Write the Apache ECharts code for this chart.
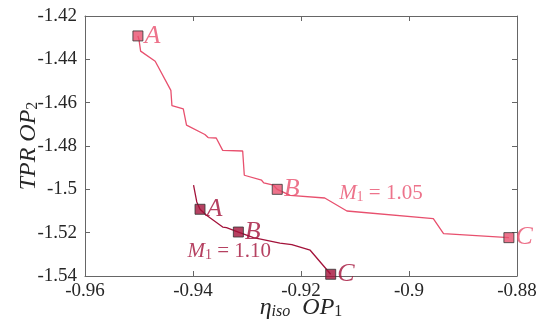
<!DOCTYPE html>
<html><head><meta charset="utf-8">
<script src="https://cdn.jsdelivr.net/npm/echarts@6/dist/echarts.min.js"></script>
<style>html,body{margin:0;padding:0;background:#fff}#c{width:536px;height:327px}</style>
</head><body><div id="c"></div>
<script>
const xTicks = ['-0.96','-0.94','-0.92','-0.9','-0.88'];
const yTicks = ['-1.42','-1.44','-1.46','-1.48','-1.5','-1.52','-1.54'];
const curve105 = [[-0.9502,-1.4292],[-0.9500,-1.4309],[-0.9497,-1.4362],[-0.9470,-1.4409],[-0.9441,-1.4543],[-0.9439,-1.4614],[-0.9418,-1.4629],[-0.9412,-1.4704],[-0.9378,-1.4747],[-0.9372,-1.4761],[-0.9357,-1.4763],[-0.9345,-1.4820],[-0.9308,-1.4823],[-0.9305,-1.4935],[-0.9273,-1.4958],[-0.9269,-1.4970],[-0.9251,-1.4981],[-0.9244,-1.5000],[-0.9220,-1.5028],[-0.9156,-1.5040],[-0.9115,-1.5100],[-0.8955,-1.5135],[-0.8936,-1.5204],[-0.8815,-1.5223]];
const curve110 = [[-0.9399,-1.4981],[-0.9393,-1.5058],[-0.9387,-1.5092],[-0.9375,-1.5120],[-0.9345,-1.5174],[-0.9338,-1.5177],[-0.9316,-1.5197],[-0.9288,-1.5223],[-0.9239,-1.5248],[-0.9217,-1.5255],[-0.9183,-1.5281],[-0.9145,-1.5392]];
const pts105 = [['A',-0.9502,-1.4292],['B',-0.9244,-1.5000],['C',-0.8815,-1.5223]];
const pts110 = [['A',-0.9387,-1.5092],['B',-0.9316,-1.5197],['C',-0.9145,-1.5392]];
const notes = [['1.05',-0.9052,-1.5014],['1.10',-0.9333,-1.5281]];
const C1 = '#e8506e', C2 = '#a3123a';
const serif = 'Liberation Serif';
const ch = echarts.init(document.getElementById('c'));
function fmt(arr){return v=>{let best=arr[0],d=1e9;arr.forEach(t=>{const e=Math.abs(parseFloat(t)-v);if(e<d){d=e;best=t;}});return best;};}
const axC = '#666';
const common = {axisLine:{lineStyle:{color:axC,width:1}},axisTick:{inside:true,length:5,lineStyle:{color:axC}},splitLine:{show:false}};
function lab(data){return data.map(p=>({value:[p[1],p[2]],name:p[0]}));}
const nameRich = {i:{fontFamily:serif,fontStyle:'italic',fontSize:24,lineHeight:28,verticalAlign:'bottom',color:'#262626'},
                  s:{fontFamily:serif,fontStyle:'italic',fontSize:16,lineHeight:10,verticalAlign:'bottom',color:'#262626'},
                  r:{fontFamily:serif,fontSize:16,lineHeight:10,verticalAlign:'bottom',color:'#262626'}};
ch.setOption({
  animation:false,
  textStyle:{fontFamily:serif},
  grid:{left:85,right:19,top:16,bottom:51,containLabel:false,outerBoundsMode:'none'},
  xAxis:[
    Object.assign({type:'value',min:-0.96,max:-0.88,interval:0.02,position:'bottom',
      name:'{i|η}{s|iso}{i|  OP}{r|1}',nameLocation:'middle',nameGap:16,nameMoveOverlap:false,
      nameTextStyle:{fontFamily:serif,rich:nameRich},
      axisLabel:{fontFamily:serif,fontSize:19,color:'#262626',margin:6,formatter:fmt(xTicks)}},common),
    Object.assign({type:'value',min:-0.96,max:-0.88,interval:0.02,position:'top',axisLabel:{show:false}},common)
  ],
  yAxis:[
    Object.assign({type:'value',min:-1.54,max:-1.42,interval:0.02,position:'left',
      name:'{i|TPR OP}{r|2}',nameLocation:'middle',nameGap:44,nameRotate:90,nameMoveOverlap:false,
      nameTextStyle:{fontFamily:serif,rich:nameRich},
      axisLabel:{fontFamily:serif,fontSize:19,color:'#262626',margin:8,formatter:fmt(yTicks)}},common),
    Object.assign({type:'value',min:-1.54,max:-1.42,interval:0.02,position:'right',axisLabel:{show:false}},common)
  ],
  series:[
    {type:'line',data:curve105,showSymbol:false,lineStyle:{color:C1,width:1.3},z:2},
    {type:'line',data:curve110,showSymbol:false,lineStyle:{color:C2,width:1.3},z:2},
    {type:'scatter',data:lab(pts105),symbol:'rect',symbolSize:10,itemStyle:{color:C1,borderColor:'#333',borderWidth:1},z:3,
      label:{show:true,position:'right',distance:1,formatter:p=>p.name,fontFamily:serif,fontStyle:'italic',fontSize:26,color:C1}},
    {type:'scatter',data:lab(pts110),symbol:'rect',symbolSize:10,itemStyle:{color:C2,borderColor:'#333',borderWidth:1},z:3,
      label:{show:true,position:'right',distance:1,formatter:p=>p.name,fontFamily:serif,fontStyle:'italic',fontSize:26,color:C2}},
    {type:'scatter',symbolSize:0,silent:true,z:4,
      data:notes.map((n,i)=>({value:[n[1],n[2]],name:n[0],label:{color:i?C2:C1}})),
      label:{show:true,position:'inside',fontFamily:serif,formatter:p=>'{m|M}{s|1}{t| = '+p.name+'}',
        rich:{m:{fontFamily:serif,fontStyle:'italic',fontSize:21,lineHeight:24,verticalAlign:'bottom'},
              s:{fontFamily:serif,fontSize:14,lineHeight:10,verticalAlign:'bottom'},
              t:{fontFamily:serif,fontSize:21,lineHeight:24,verticalAlign:'bottom'}}}}
  ]
});
</script></body></html>
